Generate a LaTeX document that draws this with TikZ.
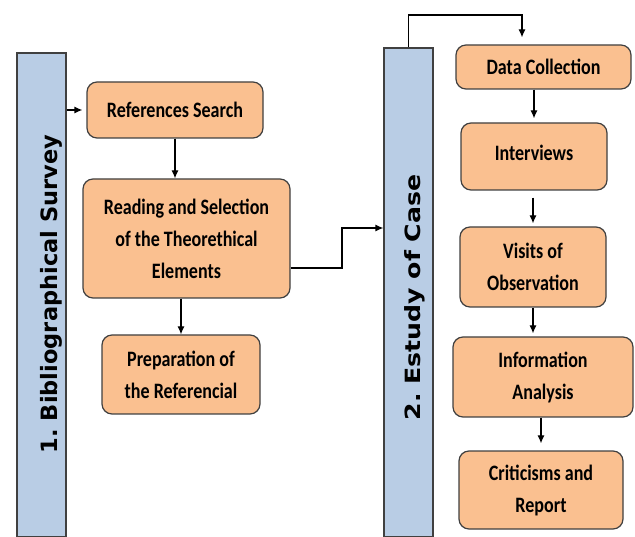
\documentclass[tikz,border=0pt]{standalone}
\usepackage{fontspec}
\usepackage{graphicx}
\setmainfont{Carlito}[FakeStretch=0.82]
\newfontfamily\barfont{DejaVu Sans}
\usetikzlibrary{arrows.meta}
\definecolor{stepfill}{HTML}{FAC090}
\definecolor{barfill}{HTML}{B9CDE5}
\definecolor{edgegray}{HTML}{404040}

\begin{document}
\begin{tikzpicture}[x=1pt,y=-1pt,
  box/.style={draw=edgegray,line width=1.2pt,fill=stepfill,rounded corners=10pt,align=center,inner sep=0pt,
    font=\bfseries\fontsize{22}{32}\selectfont},
  bar/.style={draw=edgegray,line width=1.2pt,fill=barfill,inner sep=0pt},
  bartext/.style={rotate=90,anchor=base,inner sep=0pt},
  arr/.style={-{Latex[length=8pt,width=7pt]},line width=1.2pt}]
  \useasboundingbox (0,0) rectangle (635,537);
  \node (bib) [bar,minimum width=49pt,minimum height=483.5pt] at (41.5,294.75) {};
  \node (case) [bar,minimum width=49pt,minimum height=488.5pt] at (408.5,292.25) {};
  \node (bibtext) [bartext,font=\barfont\bfseries\fontsize{22.5}{27}\selectfont] at (57,294) {1.~Bibliographical Survey};
  \node (casetext) [bartext,font=\barfont\bfseries\fontsize{21}{25}\selectfont] at (420,297.5) {\scalebox{1.2}[1]{2.\ Estudy of Case}};
  \node (refs) [box,minimum width=176pt,minimum height=56pt] at (175,110) {References Search};
  \node (read) [box,minimum width=207pt,minimum height=119pt] at (186.5,238.5) {Reading and Selection\\of the Theorethical\\Elements};
  \node (prep) [box,minimum width=158pt,minimum height=79pt] at (181,374.5) {Preparation of\\the Referencial};
  \node (data) [box,minimum width=175pt,minimum height=44pt] at (543.5,67) {Data Collection};
  \node (int) [box,minimum width=146pt,minimum height=67pt] at (534,156.5) {\raisebox{8pt}{Interviews}};
  \node (visits) [box,minimum width=146pt,minimum height=80pt] at (533,267) {Visits of\\Observation};
  \node (info) [box,minimum width=180pt,minimum height=80pt] at (543,377) {Information\\Analysis};
  \node (crit) [box,minimum width=164pt,minimum height=78pt] at (541,490) {Criticisms and\\Report};
  \coordinate (bend) at (342,268);
  \coordinate (inlet) at (0,228);
  \coordinate (top) at (522,15);
  \draw[arr,shorten >=4pt] (bib.east |- refs.west) -- (refs.west);
  \draw[arr] (refs.south) -- (refs.south |- read.north);
  \draw[arr] (prep.north |- read.south) -- (prep.north);
  \draw[arr] (read.east |- bend) -- (bend) |- (case.west |- inlet);
  \draw[arr,shorten >=7pt] (case.north) |- (top) -- (top |- data.north);
  \draw[arr,shorten >=4pt] (int.north |- data.south) -- (int.north);
  \draw[arr,shorten <=7pt,shorten >=3pt] (visits.north |- int.south) -- (visits.north);
  \draw[arr,shorten >=3pt] (visits.south) -- (visits.south |- info.north);
  \draw[arr,shorten >=7pt] (crit.north |- info.south) -- (crit.north);
\end{tikzpicture}
\end{document}
